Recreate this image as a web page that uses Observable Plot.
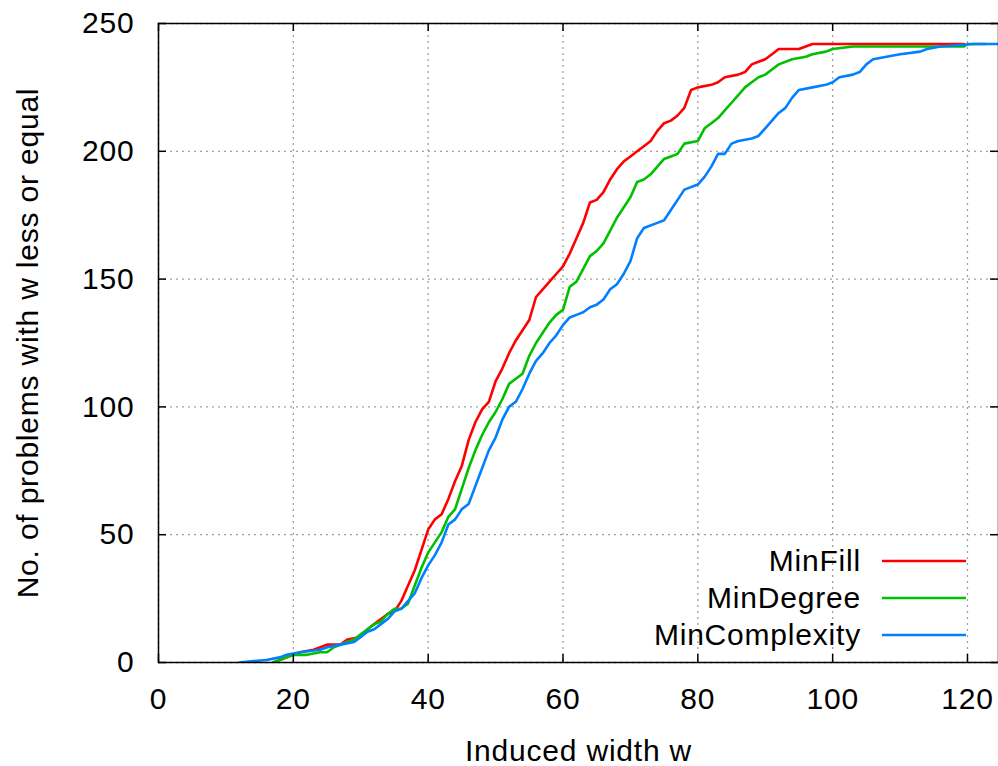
<!DOCTYPE html>
<html><head><meta charset="utf-8">
<script src="https://cdn.jsdelivr.net/npm/d3@7"></script>
<script src="https://cdn.jsdelivr.net/npm/@observablehq/plot@0.6"></script>
<style>
html,body{margin:0;padding:0;background:#fff;}
#chart{position:relative;width:998px;height:766px;}
#chart svg text{letter-spacing:0.8px;}
</style></head><body><div id="chart"></div>
<script>
const seriesNames = ["MinFill", "MinDegree", "MinComplexity"];
const seriesColors = ["#ff0000", "#00c000", "#0080ff"];

const minFillW = [17,18,19,20,21,23,24,25,27,28,30,31,32,33,34,35,36,37,38,39,40,41,42,43,44,45,46,47,48,49,50,51,52,53,54,55,56,57,58,59,60,61,62,63,64,65,66,67,68,69,70,71,72,73,74,75,76,77,78,79,80,82,83,84,86,87,88,89,90,91,92,95,96,97,119.5];
const minFillN = [0,1,2,3,4,5,6,7,7,9,10,13,15,17,19,20,24,30,36,44,52,56,58,64,71,77,87,94,99,102,110,115,121,126,130,134,143,146,149,152,155,160,166,172,180,181,184,189,193,196,198,200,202,204,208,211,212,214,217,224,225,226,227,229,230,231,234,235,236,238,240,240,241,242,242];

const minDegreeW = [17,18,19,20,22,24,25,26,28,29,30,31,32,33,34,35,36,37,38,39,40,41,42,43,44,45,46,47,48,49,50,51,52,53,54,55,56,57,58,59,60,61,62,63,64,65,66,67,68,69,70,71,72,73,74,75,76,77,78,80,81,82,83,84,85,86,87,88,89,90,91,92,94,96,97,99,100,103,119.5,120,122.7];
const minDegreeN = [0,1,2,3,3,4,4,6,8,9,11,13,15,16,19,21,21,23,30,37,43,47,51,57,60,68,76,83,89,94,98,103,109,111,113,120,125,129,133,136,138,147,149,154,159,161,164,169,174,178,182,188,189,191,194,197,198,199,203,204,209,211,213,216,219,222,225,227,229,230,232,234,236,237,238,239,240,241,241,242,242];

const minComplexityW = [12,16,18,19,21,24,25,27,29,30,31,32,33,34,35,36,37,38,39,40,41,42,43,44,45,46,47,48,49,50,51,52,53,54,55,56,57,58,59,60,61,62,63,64,65,66,67,68,69,70,71,72,74,75,76,77,78,80,81,82,83,84,85,86,88,89,90,91,92,93,94,95,97,99,100,101,103,104,105,106,108,110,113,114,116,121,126];
const minComplexityN = [0,1,2,3,4,5,6,7,8,10,12,13,15,17,20,21,24,27,33,38,42,47,54,56,60,62,69,76,83,88,95,100,102,107,113,118,121,125,128,132,135,136,137,139,140,142,146,148,152,157,166,170,172,173,177,181,185,187,190,194,199,199,203,204,205,206,209,212,215,217,221,224,225,226,227,229,230,231,234,236,237,238,239,240,241,242,242];

const xTicks = [0, 20, 40, 60, 80, 100, 120];
const yTicks = [0, 50, 100, 150, 200, 250];
const xDomain = [0, 124.6];
const yDomain = [0, 250];
const xLabel = "Induced width w";
const yLabel = "No. of problems with w less or equal";

const seriesW = [minFillW, minDegreeW, minComplexityW];
const seriesN = [minFillN, minDegreeN, minComplexityN];
const rows = seriesNames.flatMap((s, i) => seriesW[i].map((w, j) => ({series: s, w, n: seriesN[i][j]})));

const W = 998, H = 766, mL = 158, mR = 0, mT = 23, mB = 104;
const plotW = W - mL - mR, plotH = H - mT - mB;
const tickLen = 8;
const font = "'Liberation Sans', Arial, Helvetica, sans-serif";
const fs = 30;

const chart = Plot.plot({
  width: W, height: H,
  marginLeft: mL, marginRight: mR, marginTop: mT, marginBottom: mB,
  style: {fontFamily: font, fontSize: fs + "px", background: "#fff", color: "#000"},
  x: {domain: xDomain},
  y: {domain: yDomain},
  color: {domain: seriesNames, range: seriesColors},
  marks: [
    Plot.gridX(xTicks, {stroke: "#a0a0a0", strokeOpacity: 1, strokeWidth: 1.3, strokeDasharray: "2,4"}),
    Plot.gridY(yTicks, {stroke: "#a0a0a0", strokeOpacity: 1, strokeWidth: 1.3, strokeDasharray: "2,4"}),
    Plot.line(rows, {x: "w", y: "n", z: "series", stroke: "series", strokeWidth: 2.6, clip: true}),
    Plot.ruleX(xTicks, {x: d => d, insetTop: plotH - tickLen, stroke: "#000", strokeWidth: 1.5}),
    Plot.ruleX(xTicks, {x: d => d, insetBottom: plotH - tickLen, stroke: "#000", strokeWidth: 1.5}),
    Plot.ruleY(yTicks, {y: d => d, insetRight: plotW - tickLen, stroke: "#000", strokeWidth: 1.5}),
    Plot.ruleY(yTicks, {y: d => d, insetLeft: plotW - tickLen, stroke: "#000", strokeWidth: 1.5}),
    Plot.frame({stroke: "#000", strokeWidth: 1.5}),
    Plot.axisX(xTicks, {tickSize: 0, tickPadding: 25, fontSize: fs, label: null}),
    Plot.axisY(yTicks, {tickSize: 0, tickPadding: 24, fontSize: fs, label: null}),
    Plot.text([xLabel], {frameAnchor: "bottom", dy: 89, fontSize: fs, lineAnchor: "middle", textAnchor: "middle"}),
    Plot.text([yLabel], {frameAnchor: "left", dx: -130, rotate: -90, fontSize: fs, lineAnchor: "middle", textAnchor: "middle"})
  ]
});
document.getElementById("chart").appendChild(chart);

// legend (inside plot, lower right)
const svg = d3.select(chart);
const lg = svg.append("g").attr("font-family", font).attr("font-size", fs);
seriesNames.forEach((s, i) => {
  const yLine = 561 + i * 37;
  lg.append("text").attr("x", 861).attr("y", yLine + 9.5).attr("text-anchor", "end").attr("fill", "#000").text(s);
  lg.append("line").attr("x1", 882).attr("x2", 966).attr("y1", yLine).attr("y2", yLine)
    .attr("stroke", seriesColors[i]).attr("stroke-width", 2.6);
});
</script>
</body></html>
